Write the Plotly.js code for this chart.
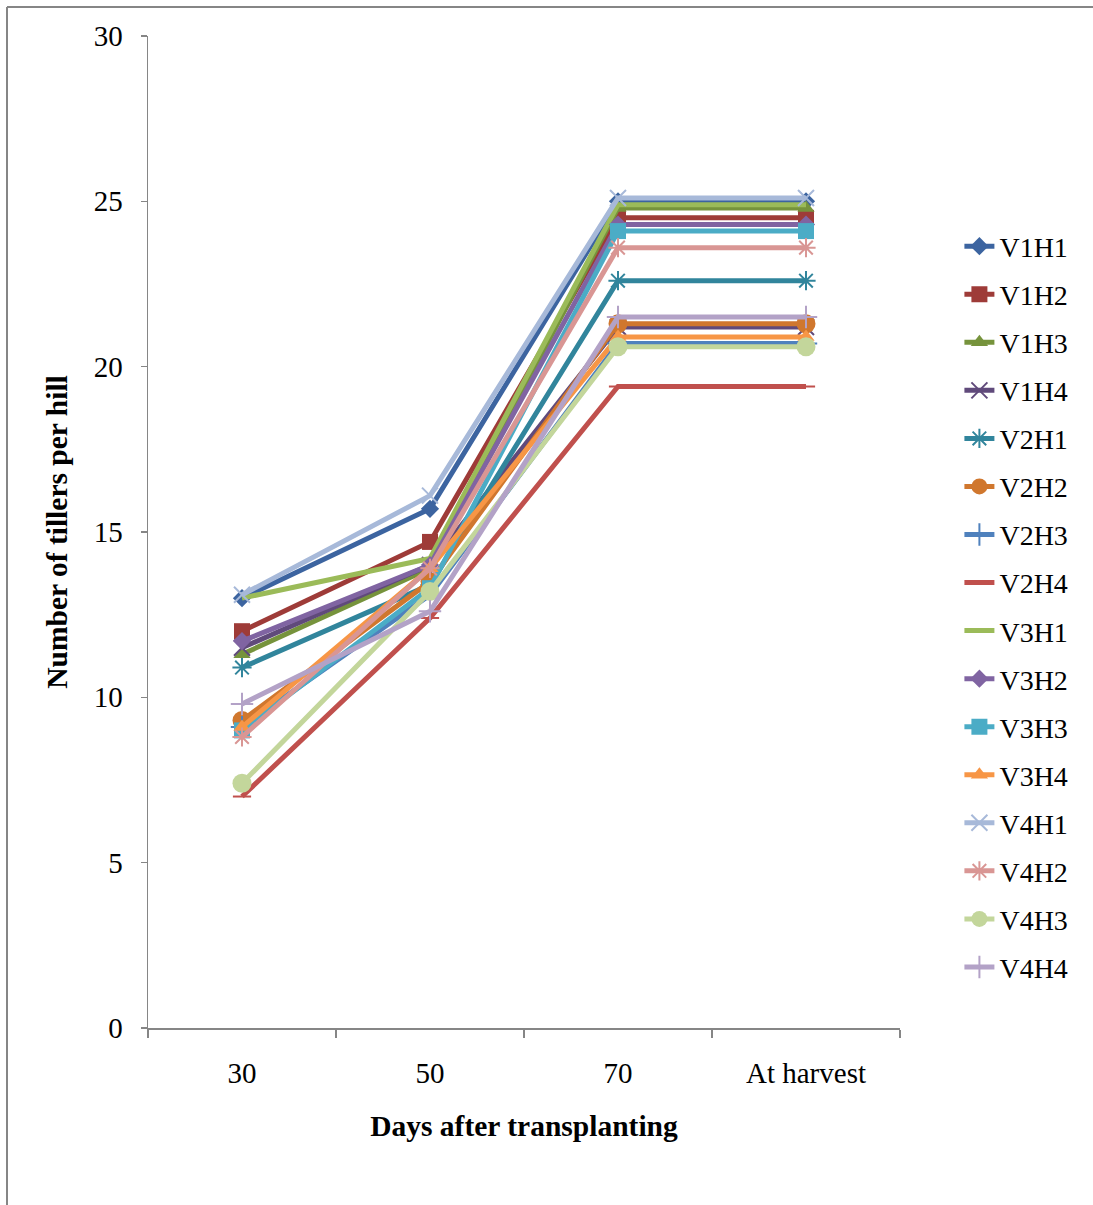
<!DOCTYPE html>
<html>
<head>
<meta charset="utf-8">
<script src="https://cdn.plot.ly/plotly-3.0.1.min.js"></script>
<style>
html,body{margin:0;padding:0;background:#fff;}
#chart{width:1093px;height:1205px;}
</style>
</head>
<body>
<div id="chart"></div>
<script>
var categories = ['30', '50', '70', 'At harvest'];

var V1H1 = [13.0, 15.7, 25.0, 25.0];
var V1H2 = [12.0, 14.7, 24.5, 24.5];
var V1H3 = [11.3, 13.9, 24.8, 24.8];
var V1H4 = [11.5, 14.0, 21.2, 21.2];
var V2H1 = [10.9, 13.4, 22.6, 22.6];
var V2H2 = [9.3, 13.5, 21.3, 21.3];
var V2H3 = [9.1, 13.1, 20.7, 20.7];
var V2H4 = [7.0, 12.4, 19.4, 19.4];
var V3H1 = [13.0, 14.2, 24.9, 24.9];
var V3H2 = [11.7, 14.0, 24.3, 24.3];
var V3H3 = [9.0, 13.3, 24.1, 24.1];
var V3H4 = [9.1, 13.9, 20.9, 20.9];
var V4H1 = [13.1, 16.1, 25.1, 25.1];
var V4H2 = [8.8, 13.9, 23.6, 23.6];
var V4H3 = [7.4, 13.2, 20.6, 20.6];
var V4H4 = [9.8, 12.6, 21.5, 21.5];

var seriesNames = ['V1H1','V1H2','V1H3','V1H4','V2H1','V2H2','V2H3','V2H4',
                   'V3H1','V3H2','V3H3','V3H4','V4H1','V4H2','V4H3','V4H4'];
var seriesValues = [V1H1,V1H2,V1H3,V1H4,V2H1,V2H2,V2H3,V2H4,
                    V3H1,V3H2,V3H3,V3H4,V4H1,V4H2,V4H3,V4H4];

var colors = ['#3C64A0','#9E3B38','#76933C','#604A7B','#31859C','#D0772E','#4F81BD','#C0504D',
              '#9BBB59','#8064A2','#4BACC6','#F79646','#A7B9D9','#D99694','#C3D69B','#B3A2C7'];
var symbols = ['diamond','square','triangle-up','x-thin-open','asterisk-open','circle','cross-thin-open','line-ew-open',
               null,'diamond','square','triangle-up','x-thin-open','asterisk-open','circle','cross-thin-open'];
var sizes = {'diamond':14,'square':16,'triangle-up':15,'x-thin-open':16,'asterisk-open':16,'circle':19,'cross-thin-open':16,'line-ew-open':13};

var traces = seriesNames.map(function(name, i){
  var sym = symbols[i];
  var t = {
    type: 'scatter',
    x: categories,
    y: seriesValues[i],
    name: name,
    legendgroup: name,
    mode: sym ? 'lines+markers' : 'lines',
    line: {color: colors[i], width: 5},
    cliponaxis: false
  };
  if (sym) {
    var open = sym.indexOf('open') >= 0;
    t.marker = {
      symbol: sym,
      size: sizes[sym],
      color: colors[i],
      line: {color: colors[i], width: open ? 2 : 0}
    };
  }
  return t;
});

var fontFam = '"Liberation Serif", "Times New Roman", serif';
var axisColor = '#868686';

var layout = {
  width: 1093,
  height: 1205,
  paper_bgcolor: '#ffffff',
  plot_bgcolor: '#ffffff',
  margin: {l: 148, r: 193, t: 36, b: 177},
  font: {family: fontFam, size: 28, color: '#000000'},
  showlegend: true,
  legend: {
    x: 1.079, xanchor: 'left',
    y: 0.813, yanchor: 'top',
    font: {family: fontFam, size: 28, color: '#000000'},
    tracegroupgap: 8.65,
    bgcolor: 'rgba(0,0,0,0)'
  },
  xaxis: {
    type: 'category',
    range: [-0.5, 3.5],
    showline: true, linecolor: axisColor, linewidth: 1.5,
    showgrid: false, zeroline: false,
    ticks: 'outside', tickson: 'boundaries', ticklen: 8, tickcolor: axisColor, tickwidth: 1.5,
    tickfont: {family: fontFam, size: 29, color: '#000000'},
    ticklabelstandoff: 19,
    title: {text: '<b>Days after transplanting</b>', font: {family: fontFam, size: 29.5, color: '#000000'}, standoff: 27}
  },
  yaxis: {
    range: [0, 30],
    tickvals: [0, 5, 10, 15, 20, 25, 30],
    showline: true, linecolor: axisColor, linewidth: 1.5,
    showgrid: false, zeroline: false,
    ticks: 'outside', ticklen: 6, tickcolor: axisColor, tickwidth: 1.5,
    tickfont: {family: fontFam, size: 29, color: '#000000'},
    ticklabelstandoff: 12,
    title: {text: '<b>Number of tillers per hill</b>', font: {family: fontFam, size: 29.5, color: '#000000'}, standoff: 17}
  },
  shapes: [
    {type: 'line', xref: 'paper', yref: 'paper', x0: -0.1875, x1: -0.1875, y0: -0.2, y1: 1.0292,
     line: {color: axisColor, width: 2}},
    {type: 'line', xref: 'paper', yref: 'paper', x0: -0.1875, x1: 1.3, y0: 1.0292, y1: 1.0292,
     line: {color: axisColor, width: 2}}
  ]
};

Plotly.newPlot('chart', traces, layout, {displayModeBar: false, staticPlot: true});
</script>
</body>
</html>
